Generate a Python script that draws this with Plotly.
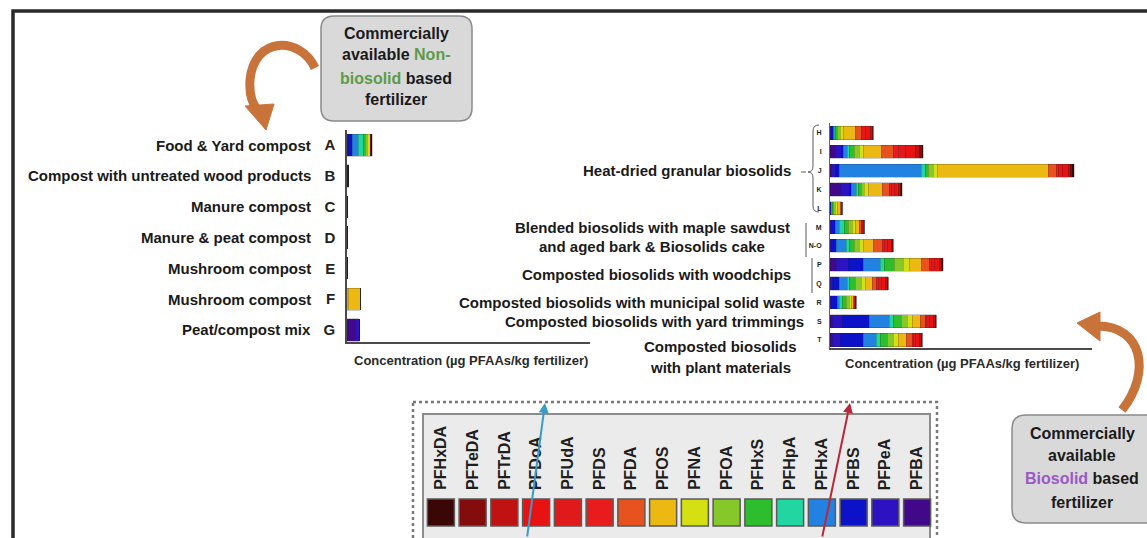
import plotly.graph_objects as go

W, H = 1147, 538

# Compounds as listed in the colour key (long chain -> short chain)
compounds = ["PFHxDA", "PFTeDA", "PFTrDA", "PFDoA", "PFUdA", "PFDS", "PFDA", "PFOS",
             "PFNA", "PFOA", "PFHxS", "PFHpA", "PFHxA", "PFBS", "PFPeA", "PFBA"]
colors = ["#3a0606", "#840c0c", "#c01212", "#e81212", "#e01a1a", "#e81c1c", "#e8521e", "#ecb812",
          "#d4e012", "#86c82a", "#2cbe2c", "#22d6a2", "#2282e2", "#0c12c8", "#2c12c0", "#42088a"]

# Bars are stacked from the short-chain end (PFBA) outwards
stack_order = compounds[::-1]
stack_colors = colors[::-1]

# Non-biosolid based fertilizers (µg PFAAs/kg), columns follow stack_order
nonbio_codes = ["A", "B", "C", "D", "E", "F", "G"]
nonbio_names = ["Food & Yard compost", "Compost with untreated wood products", "Manure compost",
                "Manure & peat compost", "Mushroom compost", "Mushroom compost", "Peat/compost mix"]
nonbio_conc = [
    # PFBA PFPeA PFBS PFHxA PFHpA PFHxS PFOA PFNA PFOS PFDA PFDS PFUdA PFDoA PFTrDA PFTeDA PFHxDA
    [0, 1, 4, 6, 5, 2, 2, 3, 0, 0, 0, 0, 0, 0, 1, 1],
    [0, 0, 1.5, 0, 0, 0, 0, 0, 0, 0, 0, 0, 0, 0, 0, 0],
    [0, 0, 0, 0, 0, 0, 0, 0, 0, 0, 0, 0, 0, 0, 0, 0],
    [0, 0, 0, 0, 0, 0, 0, 0, 0, 0, 0, 0, 0, 0, 0, 0],
    [0, 0, 0, 0, 0, 0, 0, 0, 0, 0, 0, 0, 0, 0, 0, 0],
    [0, 0, 0, 0, 0, 0, 0, 1, 12, 0, 0, 0, 0, 0, 0, 0],
    [8, 4, 0, 0, 0, 0, 0, 0, 0, 0, 0, 0, 0, 0, 0, 0],
]

# Biosolid based fertilizers (µg PFAAs/kg), columns follow stack_order
bio_codes = ["H", "I", "J", "K", "L", "M", "N-O", "P", "Q", "R", "S", "T"]
bio_conc = [
    [0, 1, 2, 1, 1, 2, 3, 3, 12, 6, 0, 4, 5, 2, 1, 0],
    [5, 6, 2, 4, 2, 5, 5, 4, 18, 12, 5, 7, 10, 4, 3, 1],
    [2, 3, 4, 82, 4, 3, 5, 4, 111, 8, 2, 4, 6, 2, 2, 2],
    [10, 9, 2, 5, 2, 3, 3, 4, 14, 7, 2, 3, 4, 2, 1, 1],
    [0, 0, 1, 0, 1, 1, 2, 2, 3, 1, 0, 0, 0, 1, 0, 0],
    [0, 1, 4, 4, 5, 4, 4, 3, 4, 2, 0, 1, 1, 1, 0, 0],
    [0, 1, 5, 10, 3, 5, 5, 4, 10, 9, 2, 3, 4, 1, 1, 0],
    [6, 12, 15, 17, 4, 10, 9, 6, 12, 8, 2, 3, 5, 2, 1, 1],
    [0, 2, 7, 8, 2, 6, 6, 4, 7, 4, 2, 3, 4, 2, 1, 0],
    [0, 1, 6, 2, 3, 4, 3, 2, 2, 1, 0, 0, 1, 0, 1, 0],
    [2, 10, 27, 20, 4, 8, 6, 5, 8, 5, 1, 3, 4, 2, 1, 0],
    [2, 8, 23, 13, 4, 7, 6, 5, 8, 6, 1, 2, 4, 2, 1, 0],
]

# Group labels for the biosolid panel: text lines and centre row position
heat_dried = ("Heat-dried granular biosolids", 2.0)
blended = (["Blended biosolids with maple sawdust", "and aged bark & Biosolids cake"], 5.5)
woodchips = ("Composted biosolids with woodchips", 7.5)
msw = ("Composted biosolids with municipal solid waste", 9.0)
yard = ("Composted biosolids with yard trimmings", 10.0)
plant = ["Composted biosolids", "with plant materials"]

axis_title = "Concentration (µg PFAAs/kg fertilizer)"
FONT = "Arial, Liberation Sans, sans-serif"
LABEL_SIZE = 15


def px(x):
    return x / W


def py(y):
    return 1 - y / H


fig = go.Figure()

for j, (name, col) in enumerate(zip(stack_order, stack_colors)):
    fig.add_trace(go.Bar(
        x=[row[j] for row in nonbio_conc], y=nonbio_codes, orientation="h",
        marker=dict(color=col, line=dict(width=0.5, color="rgba(30,30,30,0.45)")),
        width=0.72, xaxis="x", yaxis="y", showlegend=False, name=name))
    fig.add_trace(go.Bar(
        x=[row[j] for row in bio_conc], y=bio_codes, orientation="h",
        marker=dict(color=col, line=dict(width=0.5, color="rgba(30,30,30,0.45)")),
        width=0.7, xaxis="x2", yaxis="y2", showlegend=False, name=name))

# Colour key squares
fig.add_trace(go.Scatter(
    x=list(range(len(compounds))), y=[0.5] * len(compounds), mode="markers",
    marker=dict(symbol="square", size=27, color=colors, line=dict(width=1.5, color="#5a5a5a")),
    xaxis="x3", yaxis="y3", showlegend=False, hoverinfo="skip"))

line_col = "#4a4a4a"
fig.update_layout(
    width=W, height=H, margin=dict(l=0, r=0, t=0, b=0),
    paper_bgcolor="white", plot_bgcolor="rgba(0,0,0,0)",
    barmode="stack", bargap=0.3,
    font=dict(family=FONT, color="#1a1a1a"),
    xaxis=dict(domain=[px(347), px(590)], range=[0, 243], anchor="y",
               showline=True, linecolor=line_col, linewidth=1.5, showticklabels=False,
               showgrid=False, zeroline=False, ticks=""),
    yaxis=dict(domain=[py(342), py(130)], range=[6.39, -0.49], anchor="x",
               type="category", categoryorder="array", categoryarray=nonbio_codes,
               showline=True, linecolor=line_col, linewidth=1.5, showgrid=False, ticks="",
               tickfont=dict(size=15, color="#222", weight="bold"), ticklabelstandoff=7),
    xaxis2=dict(domain=[px(830), px(1092)], range=[0, 262], anchor="y2",
                showline=True, linecolor=line_col, linewidth=1.5, showticklabels=False,
                showgrid=False, zeroline=False, ticks=""),
    yaxis2=dict(domain=[py(348), py(123)], range=[11.425, -0.53], anchor="x2",
                type="category", categoryorder="array", categoryarray=bio_codes,
                showline=True, linecolor="#6a5aa0", linewidth=1, showgrid=False, ticks="",
                tickfont=dict(size=7, color="#222", weight="bold"), ticklabelstandoff=6),
    xaxis3=dict(domain=[px(425), px(933)], range=[-0.5, len(compounds) - 0.5], anchor="y3",
                visible=False),
    yaxis3=dict(domain=[py(530), py(495)], range=[0, 1], anchor="x3", visible=False),
)

ann = []


def label(text, x, y, xanchor="right", yref="paper"):
    ann.append(dict(text=f"<b>{text}</b>", xref="paper", x=px(x), xanchor=xanchor,
                    yref=yref, y=y, yanchor="middle", showarrow=False,
                    font=dict(size=LABEL_SIZE, color="#1a1a1a")))


# Sample descriptions (non-biosolid panel)
for i, name in enumerate(nonbio_names):
    label(name, 313, i, yref="y")

# Group descriptions (biosolid panel)
label(heat_dried[0], 793, heat_dried[1], yref="y2")
for k, ln in enumerate(blended[0]):
    label(ln, 652, blended[1] - 0.5 + k * 1.05, xanchor="center", yref="y2")
label(woodchips[0], 793, woodchips[1], yref="y2")
label(msw[0], 807, msw[1], yref="y2")
label(yard[0], 806, yard[1], yref="y2")
for ln, yy in zip(plant, [346, 367]):
    label(ln, 720, py(yy), xanchor="center")

# Axis titles
for cx, cy in [(471, 360), (962, 363)]:
    ann.append(dict(text=f"<b>{axis_title}</b>", xref="paper", yref="paper",
                    x=px(cx), y=py(cy), xanchor="center", yanchor="middle", showarrow=False,
                    font=dict(size=13, color="#2a2a2a")))

# Colour key labels
for i, name in enumerate(compounds):
    ann.append(dict(text=f"<b>{name}</b>", xref="x3", x=i, yref="paper", y=py(492),
                    yanchor="bottom", xanchor="center", textangle=-90, showarrow=False,
                    font=dict(size=16, color="#1e1e1e")))

# Callout texts
green = "#5d9b4a"
purple = "#9a58c8"
top_lines = ["Commercially", f"available <span style='color:{green}'>Non-</span>",
             f"<span style='color:{green}'>biosolid</span> based", "fertilizer"]
for ln, yy in zip(top_lines, [33, 55, 78, 100]):
    ann.append(dict(text=f"<b>{ln}</b>", xref="paper", yref="paper", x=px(396), y=py(yy),
                    xanchor="center", yanchor="middle", showarrow=False,
                    font=dict(size=16, color="#1a1a1a")))
bot_lines = ["Commercially", "available", f"<span style='color:{purple}'>Biosolid</span> based",
             "fertilizer"]
for ln, yy in zip(bot_lines, [433, 455, 478, 502]):
    ann.append(dict(text=f"<b>{ln}</b>", xref="paper", yref="paper", x=px(1082), y=py(yy),
                    xanchor="center", yanchor="middle", showarrow=False,
                    font=dict(size=16, color="#1a1a1a")))

# Straight pointer arrows through the colour key
for (hx, hy, tx, ty, c) in [(545, 403, 527, 540, "#3a9ac8"), (850, 403, 822, 540, "#b82838")]:
    ann.append(dict(text="", xref="paper", yref="paper", x=px(hx), y=py(hy),
                    ax=tx - hx, ay=ty - hy, showarrow=True, arrowhead=2, arrowsize=1,
                    arrowwidth=2, arrowcolor=c))

fig.update_layout(annotations=ann)


def rrect(x0, y0, x1, y1, r):
    return (f"M {px(x0 + r)},{py(y0)} L {px(x1 - r)},{py(y0)} "
            f"Q {px(x1)},{py(y0)} {px(x1)},{py(y0 + r)} L {px(x1)},{py(y1 - r)} "
            f"Q {px(x1)},{py(y1)} {px(x1 - r)},{py(y1)} L {px(x0 + r)},{py(y1)} "
            f"Q {px(x0)},{py(y1)} {px(x0)},{py(y1 - r)} L {px(x0)},{py(y0 + r)} "
            f"Q {px(x0)},{py(y0)} {px(x0 + r)},{py(y0)} Z")


def pth(cmds):
    out = []
    for c in cmds:
        if isinstance(c, str):
            out.append(c)
        else:
            out.append(f"{px(c[0])},{py(c[1])}")
    return " ".join(out)


orange = "#c8733a"
bracket = dict(color="#5a5a5a", width=1)
shapes = [
    # outer frame
    dict(type="rect", xref="paper", yref="paper", x0=px(13), y0=py(11), x1=px(1170), y1=py(600),
         line=dict(color="#2a2a2a", width=3.5), layer="below"),
    # colour key frames
    dict(type="rect", xref="paper", yref="paper", x0=px(413), y0=py(402), x1=px(937), y1=py(600),
         line=dict(color="#7a7a7a", width=2.5, dash="dot"), layer="below"),
    dict(type="rect", xref="paper", yref="paper", x0=px(423), y0=py(414), x1=px(930), y1=py(600),
         line=dict(color="#8c8c8c", width=2), fillcolor="#ebebeb", layer="below"),
    # callout boxes
    dict(type="path", xref="paper", yref="paper", path=rrect(321, 16, 472, 121, 13),
         line=dict(color="#8a8a8a", width=1.5), fillcolor="#d9d9d9", layer="below"),
    dict(type="path", xref="paper", yref="paper", path=rrect(1012, 415, 1165, 523, 14),
         line=dict(color="#8a8a8a", width=1.5), fillcolor="#d9d9d9", layer="below"),
    # curved arrows
    dict(type="path", xref="paper", yref="paper",
         path=pth(["M", (315, 68), "C", (300, 36), (254, 36), (250, 80), "C", (249, 95), (252, 104), (258, 110)]),
         line=dict(color=orange, width=9)),
    dict(type="path", xref="paper", yref="paper",
         path=pth(["M", (245, 106), "L", (274, 104), "L", (266, 130), "Z"]),
         line=dict(color=orange, width=1), fillcolor=orange),
    dict(type="path", xref="paper", yref="paper",
         path=pth(["M", (1122, 410), "C", (1152, 372), (1142, 326), (1098, 326)]),
         line=dict(color=orange, width=9)),
    dict(type="path", xref="paper", yref="paper",
         path=pth(["M", (1100, 312), "L", (1100, 341), "L", (1077, 323), "Z"]),
         line=dict(color=orange, width=1), fillcolor=orange),
    # brackets grouping biosolid samples
    dict(type="path", xref="paper", yref="paper",
         path=pth(["M", (819, 125), "Q", (813, 125), (813, 131), "L", (813, 166), "Q", (813, 172), (808, 172),
                   "Q", (813, 172), (813, 178), "L", (813, 206), "Q", (813, 212), (819, 212)]),
         line=bracket),
    dict(type="line", xref="paper", yref="paper", x0=px(801), y0=py(172), x1=px(806), y1=py(172),
         line=bracket),
    dict(type="line", xref="paper", yref="paper", x0=px(806), y0=py(223), x1=px(806), y1=py(257),
         line=bracket),
    dict(type="line", xref="paper", yref="paper", x0=px(812), y0=py(258), x1=px(812), y1=py(293),
         line=bracket),
]
fig.update_layout(shapes=shapes)

fig.write_html("out.html")
